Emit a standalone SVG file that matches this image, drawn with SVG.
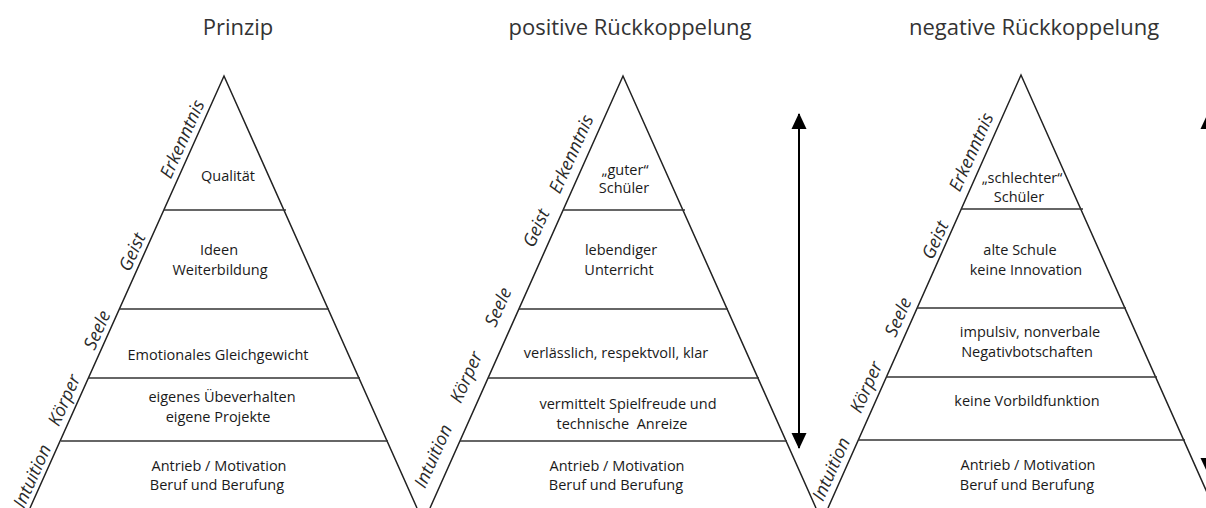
<svg xmlns="http://www.w3.org/2000/svg" width="1206" height="508" viewBox="0 0 1206 508">
<defs>
<marker id="ah" viewBox="0 0 16 16" markerWidth="16" markerHeight="16" refX="15" refY="8" orient="auto-start-reverse" markerUnits="userSpaceOnUse">
<path d="M0,0.5 L16,8 L0,15.5 Z" fill="#000"/>
</marker>
<style>
.edge{fill:none;stroke:#222;stroke-width:1.5}
.sep{stroke:#333;stroke-width:1.7}
.title{font-family:"Open Sans",sans-serif;font-size:22px;fill:#333;text-anchor:middle}
.side{font-family:"Open Sans",sans-serif;font-style:italic;font-size:18px;fill:#2a2a2a;text-anchor:middle}
.in{font-family:"Open Sans",sans-serif;font-size:14.5px;fill:#1a1a1a;text-anchor:middle}
.arr{stroke:#000;stroke-width:2;fill:none}
</style>
</defs>
<rect width="1206" height="508" fill="#fff"/>

<g id="pyramid-prinzip">
<text class="title" x="238" y="35">Prinzip</text>
<path class="edge" d="M30,508 L224,76 L417,508"/>
<line class="sep" x1="164" y1="210" x2="286" y2="210"/>
<line class="sep" x1="120" y1="309" x2="329" y2="309"/>
<line class="sep" x1="89" y1="378" x2="360" y2="378"/>
<line class="sep" x1="61" y1="441" x2="388" y2="441"/>
<g id="p1-erkenntnis"><text class="side" transform="translate(182,139) rotate(-65.9)" dy="0.35em">Erkenntnis</text><text class="in" x="228" y="181">Qualität</text></g>
<g id="p1-geist"><text class="side" transform="translate(132,252) rotate(-65.9)" dy="0.35em">Geist</text><text class="in" x="219" y="255">Ideen</text><text class="in" x="220" y="275">Weiterbildung</text></g>
<g id="p1-seele"><text class="side" transform="translate(97,330) rotate(-65.9)" dy="0.35em">Seele</text><text class="in" x="218" y="360">Emotionales Gleichgewicht</text></g>
<g id="p1-koerper"><text class="side" transform="translate(64,400) rotate(-65.9)" dy="0.35em">Körper</text><text class="in" x="222" y="402">eigenes Übeverhalten</text><text class="in" x="218" y="422">eigene Projekte</text></g>
<g id="p1-intuition"><text class="side" transform="translate(32,476) rotate(-65.9)" dy="0.35em">Intuition</text><text class="in" x="219" y="471">Antrieb / Motivation</text><text class="in" x="217" y="490">Beruf und Berufung</text></g>
</g>

<g id="pyramid-positiv">
<text class="title" x="630" y="35">positive Rückkoppelung</text>
<path class="edge" d="M430,508 L623,76 L816,508"/>
<line class="sep" x1="563" y1="210" x2="685" y2="210"/>
<line class="sep" x1="519" y1="309" x2="728" y2="309"/>
<line class="sep" x1="488" y1="378" x2="759" y2="378"/>
<line class="sep" x1="460" y1="441" x2="787" y2="441"/>
<g id="p2-erkenntnis"><text class="side" transform="translate(571,154) rotate(-65.9)" dy="0.35em">Erkenntnis</text><text class="in" x="625" y="175">„guter“</text><text class="in" x="624" y="193">Schüler</text></g>
<g id="p2-geist"><text class="side" transform="translate(536,228) rotate(-65.9)" dy="0.35em">Geist</text><text class="in" x="621" y="255">lebendiger</text><text class="in" x="619" y="275">Unterricht</text></g>
<g id="p2-seele"><text class="side" transform="translate(498,307) rotate(-65.9)" dy="0.35em">Seele</text><text class="in" x="616" y="358">verlässlich, respektvoll, klar</text></g>
<g id="p2-koerper"><text class="side" transform="translate(466,377) rotate(-65.9)" dy="0.35em">Körper</text><text class="in" x="628" y="409">vermittelt Spielfreude und</text><text class="in" x="622" y="429" xml:space="preserve">technische  Anreize</text></g>
<g id="p2-intuition"><text class="side" transform="translate(433,456) rotate(-65.9)" dy="0.35em">Intuition</text><text class="in" x="617" y="471">Antrieb / Motivation</text><text class="in" x="616" y="490">Beruf und Berufung</text></g>
</g>

<g id="pyramid-negativ">
<text class="title" x="1034" y="35">negative Rückkoppelung</text>
<path class="edge" d="M828,508 L1021,75 L1214,508"/>
<line class="sep" x1="961" y1="209" x2="1083" y2="209"/>
<line class="sep" x1="917" y1="308" x2="1126" y2="308"/>
<line class="sep" x1="886" y1="377" x2="1157" y2="377"/>
<line class="sep" x1="858" y1="440" x2="1185" y2="440"/>
<g id="p3-erkenntnis"><text class="side" transform="translate(971,152) rotate(-65.9)" dy="0.35em">Erkenntnis</text><text class="in" x="1022" y="183">„schlechter“</text><text class="in" x="1019" y="202">Schüler</text></g>
<g id="p3-geist"><text class="side" transform="translate(935,240) rotate(-65.9)" dy="0.35em">Geist</text><text class="in" x="1020" y="255">alte Schule</text><text class="in" x="1026" y="275">keine Innovation</text></g>
<g id="p3-seele"><text class="side" transform="translate(898,317) rotate(-65.9)" dy="0.35em">Seele</text><text class="in" x="1030" y="337">impulsiv, nonverbale</text><text class="in" x="1027" y="357">Negativbotschaften</text></g>
<g id="p3-koerper"><text class="side" transform="translate(866,387) rotate(-65.9)" dy="0.35em">Körper</text><text class="in" x="1027" y="406">keine Vorbildfunktion</text></g>
<g id="p3-intuition"><text class="side" transform="translate(831,469) rotate(-65.9)" dy="0.35em">Intuition</text><text class="in" x="1028" y="470">Antrieb / Motivation</text><text class="in" x="1027" y="490">Beruf und Berufung</text></g>
</g>

<g id="connectors">
<line class="arr" x1="799" y1="114" x2="799" y2="448" marker-start="url(#ah)" marker-end="url(#ah)"/>
<line class="arr" x1="1208" y1="114" x2="1208" y2="473" marker-start="url(#ah)" marker-end="url(#ah)"/>
</g>
</svg>
